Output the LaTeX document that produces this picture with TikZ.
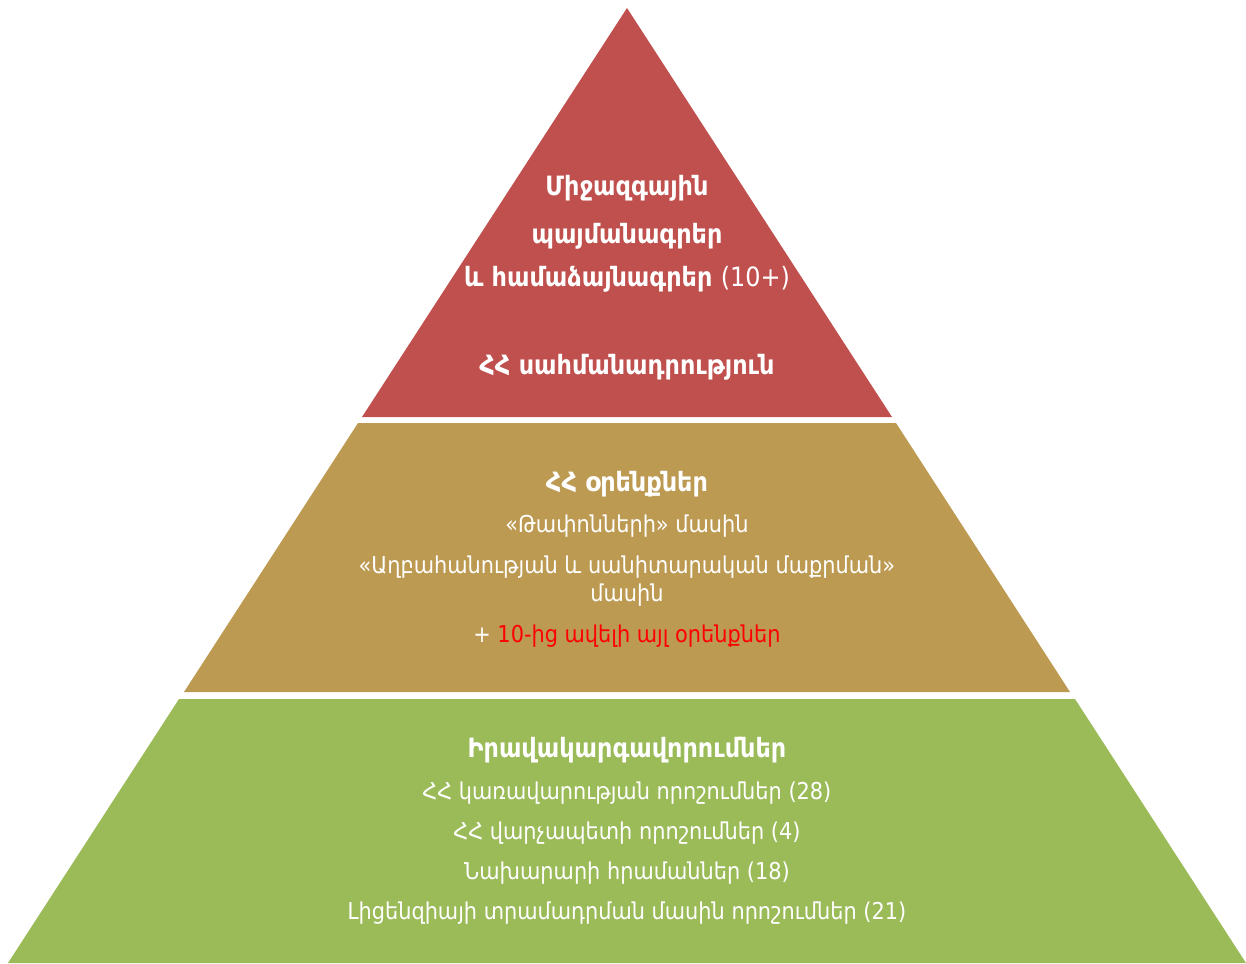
\documentclass[tikz,border=0pt]{standalone}
\usepackage{fontspec}
\setmainfont{DejaVu Sans Condensed}
\definecolor{topred}{HTML}{C0504D}
\definecolor{midgold}{HTML}{BD9A52}
\definecolor{lowgreen}{HTML}{9BBB59}
\begin{document}
\begin{tikzpicture}[x=0.5pt, y=-0.5pt,
    heading/.style={text=white, font=\bfseries\fontsize{13.3}{15}\selectfont,
        align=center, anchor=center},
    entry/.style={text=white, font=\fontsize{11.6}{15}\selectfont,
        align=center, anchor=center}
]
\useasboundingbox (0,0) rectangle (1246,963);

% the three layers of the pyramid
\fill[topred] (627,8) -- (892,417) -- (362,417) -- cycle;
\fill[midgold] (358,423) -- (896,423) -- (1070,692) -- (184,692) -- cycle;
\fill[lowgreen] (179,699) -- (1075,699) -- (1246,963) -- (8,963) -- cycle;

% top layer
\node (Treaty1) [heading] at (627,188) {Միջազգային};
\node (Treaty2) [heading] at (627,236) {պայմանագրեր};
\node (Treaty3) [heading] at (627,279) {և համաձայնագրեր \mdseries(10+)};
\node (Constitution) [heading] at (627,367) {ՀՀ սահմանադրություն};

% middle layer
\node (Laws) [heading] at (627,484) {ՀՀ օրենքներ};
\node (Waste) [entry] at (627,526) {«Թափոնների» մասին};
\node (Cleaning) [entry] at (627,581) {«Աղբահանության և սանիտարական մաքրման»\\[-1pt] մասին};
\node (MoreLaws) [entry] at (627,636) {+ \textcolor{red}{10-ից ավելի այլ օրենքներ}};

% bottom layer
\node (Regulations) [heading] at (627,750) {Իրավակարգավորումներ};
\node (Government) [entry] at (627,793) {ՀՀ կառավարության որոշումներ (28)};
\node (PrimeMinister) [entry] at (627,833) {ՀՀ վարչապետի որոշումներ (4)};
\node (Minister) [entry] at (627,873) {Նախարարի հրամաններ (18)};
\node (Licence) [entry] at (627,913) {Լիցենզիայի տրամադրման մասին որոշումներ (21)};

\end{tikzpicture}
\end{document}
